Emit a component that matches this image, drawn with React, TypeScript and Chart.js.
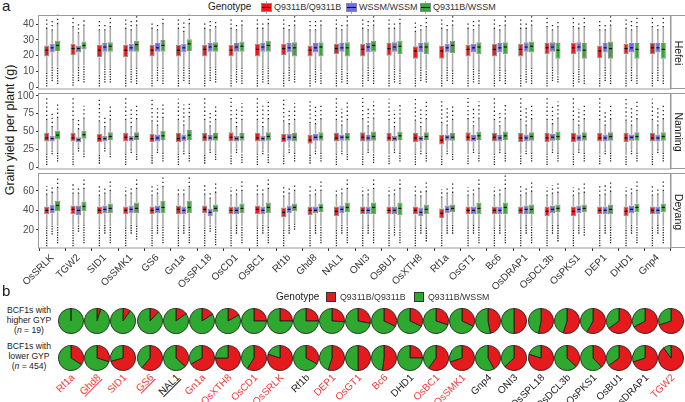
import React, { useEffect, useRef } from 'react';
import { Chart, registerables } from 'chart.js';
Chart.register(...registerables);

const FONT = '"Liberation Sans", Arial, Helvetica, sans-serif';

const genes = ['OsSRLK','TGW2','SID1','OsSMK1','GS6','Gn1a','OsSPL18','OsCD1','OsBC1','Rf1b','Ghd8','NAL1','ONI3','OsBU1','OsXTH8','Rf1a','OsGT1','Bc6','OsDRAP1','OsDCL3b','OsPKS1','DEP1','DHD1','Gnp4'];
const genotypes = ['Q9311B/Q9311B','WSSM/WSSM','Q9311B/WSSM'];
const boxColors = ['#e41a1c','#6b6bf0','#36a836'];

const hefeiTicks = [0,10,20,30,40];
const nanningTicks = [0,25,50,75,100];
const deyangTicks = [20,40,60];

// each box: [lowest outlier, lower whisker, Q1, median, Q3, upper whisker, highest outlier]
const hefeiRed = [[0.5,9,19.5,23.5,26.5,37,44],[1,9,20.5,24.5,27.5,38,45],[0.5,8,19,23.5,27,36,42],[0.5,8,19,23.5,27,37,44],[0.5,8,19.5,23.5,27,37,42],[0.5,8,19.5,23.5,27,37,43],[0.5,8,19.5,24,27,37,42],[0.5,8,19.5,23.5,27,37,43],[0.5,8,19.5,24,27.5,37,44],[0.5,9,20.5,24.5,27.5,37,43],[0.5,8,19.5,23.5,26.5,36,42],[0.5,9,21,24.5,27.5,37,43],[0.5,8,19.5,24,27.5,37,43],[0.5,8,20,24.5,28,37,43],[0.5,7,18,23,26,35,42],[0.5,8,18,23,26.5,37,43],[0.5,8,19.5,24,27,37,42],[0.5,8,19.5,24,27.5,37,43],[0.5,8,19.5,24,27.5,37,44],[0.5,9,21,25,28,38,45],[0.5,9,21,25,28,38,45],[0.5,7,18.5,23,26.5,36,43],[0.5,9,21,24.5,27.5,37,44],[0.5,9,21,25,28,38,45]];
const hefeiBlue = [[4,13,22,25,27.5,36,42],[4,13,22,24.5,26.5,34,40],[3,13,22.5,25.5,28,36,41],[3,13,22.5,25,27.5,36,42],[4,13,22.5,25,28,36,41],[4,13,22,25,27.5,35,41],[4,13,22.5,25.5,28,36,42],[3,13,22.5,25.5,28,36,41],[3,13,22.5,25.5,28,37,42],[4,13,22,25,28,36,41],[3,13,22,25,28,36,42],[3,13,22.5,25,28,36,41],[4,13,22,25.5,28,36,43],[3,13,22.5,25.5,28.5,37,42],[4,13,22,25.5,28,36,41],[4,13,22,25,27.5,36,41],[3,13,22,25,27.5,36,42],[4,13,22,25,28,36,41],[3,13,22.5,25.5,28.5,37,42],[4,13,22.5,25.5,28.5,36,41],[3,13,22.5,25.5,28.5,37,42],[4,13,22,25,28,36,41],[4,13,22,25,28,36,42],[4,13,22,25,28,36,41]];
const hefeiGreen = [[2,13,23,26.5,29.5,40,46],[3,14,24,26.5,29,39,44],[3,13,22.5,26,28.5,38,45],[2,12,22.5,27,29.5,39,45],[2,12,22.5,26.5,30,40,45],[2,12,23,27.5,30.5,40,46],[3,13,22.5,26,28.5,38,42],[2,12,22.5,26,29,39,44],[2,12,22.5,26.5,29.5,40,45],[3,10,19.5,25,28.5,39,45],[2,10,19.5,25.5,28.5,39,44],[2,10,19.5,25,28.5,39,45],[2,12,22.5,26.5,29.5,39,45],[2,11,21,26,29.5,40,46],[3,11,21,25.5,28.5,38,44],[2,11,21.5,26.5,29.5,39,45],[2,11,21,25.5,28.5,39,44],[2,11,21,25.5,28.5,39,45],[2,12,22,26,29,39,45],[3,8,18,23.5,28,38,43],[2,8,18,23.5,28,38,44],[2,8,18,24.5,29,39,45],[2,8,18,24,28,38,44],[2,8,18,24,28,38,45]];

const nanningRed = [[3,18,36,41,48,66,98],[3,18,36,41,48,66,98],[5,18,35,40,47,64,95],[3,18,36,42,48,66,97],[5,18,35,40,47,64,98],[3,18,35,40,48,66,96],[5,18,36,42,48,66,98],[4,18,36,42,49,67,97],[3,18,36,41,48,66,98],[4,17,35,40,47,64,96],[5,17,33,38,45,62,95],[3,18,36,41,48,66,98],[3,18,36,42,49,67,97],[4,18,36,41,48,66,96],[3,18,35,41,48,65,97],[3,15,32,38,45,62,95],[4,18,36,42,49,67,97],[3,18,36,42,48,66,97],[4,18,35,41,48,66,97],[3,18,35,41,48,66,98],[3,18,35,41,48,66,98],[4,18,36,41,48,66,97],[3,17,35,41,48,65,98],[3,18,36,41,48,66,96]];
const nanningBlue = [[18,26,36,40,44,56,78],[22,27,35,38.5,42,53,68],[22,27,36,40,44,56,72],[20,26,36,40,44,56,82],[20,26,36,41,46,58,86],[18,26,36,41,46,58,88],[20,26,37,41,45,57,78],[20,26,36,40,44,56,84],[18,26,36,40,44,56,86],[20,27,37,42,47,60,80],[18,26,37,42,47,60,88],[18,26,37,42,46,58,82],[20,26,36,41,45,57,84],[20,26,36,40,44,56,80],[18,26,36,40,44,56,82],[18,26,37,42,46,58,86],[20,26,36,40,45,57,84],[20,26,36,41,45,57,80],[18,26,36,41,46,58,84],[20,26,37,42,47,60,86],[20,26,36,41,46,58,82],[18,26,36,41,46,58,80],[18,26,37,42,46,58,84],[20,26,36,41,46,58,86]];
const nanningGreen = [[8,20,39,45,51,69,90],[14,22,40,45.5,51,68,86],[14,20,38,43,49,66,88],[10,20,38,43,49,67,90],[8,20,38,44,51,69,92],[8,20,38,45,52,70,90],[10,20,37,42,48,66,88],[6,20,37,42,48,66,90],[6,20,37,43,49,67,92],[8,20,36,42,48,66,90],[8,20,37,42.5,49,67,90],[10,20,37,42,48,66,92],[6,20,37,43,50,68,92],[8,20,38,44,50,68,90],[8,20,38,43,49,67,92],[10,20,37,42,48,66,88],[8,20,38,44,50,68,92],[8,20,38,44,50,68,90],[8,20,37,43,49,67,88],[8,20,38,43,50,68,92],[8,20,37,43,49,67,90],[8,20,37,43,49,67,88],[8,20,37,43,49,67,92],[8,20,37,43,49,67,90]];

const deyangRed = [[3,22,36,40,44,56,65],[3,23,36,41,45,57,68],[3,23,36,40,44,55,65],[3,22,36,40,44,55,64],[3,22,36,40,44,55,66],[3,22,36,41,45,56,64],[3,23,37,41,45,56,66],[3,22,36,40,44,55,64],[3,22,36,41,45,56,66],[3,20,33,38,43,54,64],[3,22,35,40,44,55,66],[3,20,34,39,44,55,62],[3,22,36,40,44,55,64],[3,22,36,40,44,55,64],[3,22,36,40,44,55,66],[3,19,32,37,42,53,62],[3,22,36,40,44,55,64],[3,22,36,40,44,55,64],[3,22,36,40,44,55,66],[3,20,34,39,44,55,64],[3,20,34,39,44,55,64],[3,22,36,40,44,55,66],[3,20,34,39,44,55,64],[3,22,36,40,44,55,66]];
const deyangBlue = [[15,26,37,41,46,58,66],[18,26,35,40,45,57,64],[16,26,37,41,45,57,65],[16,26,37,41,45,57,64],[16,26,37,41,45,57,66],[16,26,36,40,44,56,64],[18,26,34,38,42,52,60],[16,25,36,40,44,56,64],[16,26,36,40,44,56,64],[16,26,37,41,45,57,64],[16,26,37,40,44,56,64],[16,26,37,41,45,57,64],[16,25,36,40,44,56,64],[14,25,36,40,44,56,64],[16,25,34,38,43,54,62],[16,26,37,41,45,57,64],[16,25,36,40,44,56,64],[16,25,36,40,44,56,64],[16,25,36,41,45,57,64],[16,26,37,41,45,57,66],[16,26,37,41,45,57,64],[16,26,36,40,44,56,66],[16,26,37,41,45,57,64],[16,25,36,40,44,56,64]];
const deyangGreen = [[6,24,39,45,50,63,75],[6,25,39,44,49,62,74],[6,24,37,42,47,60,72],[10,24,37,42,48,62,72],[6,23,37,43,50,64,74],[6,23,37,43,50,64,74],[4,25,38,42,46,58,70],[6,24,37,42,47,60,72],[6,23,37,43,48,62,74],[20,26,39,43,47,60,68],[6,24,38,43,47,60,72],[6,24,38,43,48,62,72],[6,22,36,43,48,62,74],[6,22,35,42,48,62,74],[8,24,36,41,46,59,70],[16,26,38,42,46,58,68],[6,23,36,42,48,62,72],[6,22,36,43,48,62,76],[6,24,36,41,46,59,70],[8,25,38,42,46,58,68],[14,25,38,42,46,58,68],[6,23,36,41,46,59,70],[6,24,38,43,47,60,70],[6,24,38,43,47,60,70]];

// panel b
const pieGenes = ['Rf1a','Ghd8','SID1','GS6','NAL1','Gn1a','OsXTH8','OsCD1','OsSRLK','Rf1b','DEP1','OsGT1','Bc6','DHD1','OsBC1','OsSMK1','Gnp4','ONI3','OsSPL18','OsDCL3b','OsPKS1','OsBU1','OsDRAP1','TGW2'];
const higherRed = [0,0.05,0.1,0.12,0.15,0.16,0.17,0.25,0.25,0.25,0.26,0.28,0.32,0.32,0.3,0.32,0.47,0.5,0.53,0.55,0.58,0.65,0.67,0.7];
const lowerRed = [0.34,0.3,0.71,0.61,0.37,0.67,0.75,0.59,0.8,0.33,0.55,0.5,0.52,0.25,0.6,0.7,0.42,0.63,0.8,0.37,0.38,0.65,0.7,0.9];
const highlightedGenes = ['Rf1a','Ghd8','SID1','GS6','Gn1a','OsXTH8','OsCD1','OsSRLK','DEP1','OsGT1','Bc6','OsBC1','OsSMK1','TGW2'];
const underlinedGenes = ['Ghd8','GS6','NAL1'];
const pieGenotypes = ['Q9311B/Q9311B','Q9311B/WSSM'];
const pieColors = ['#e41a1c','#2ea82e'];

const boxPlugin = {
  id: 'boxExtras',
  beforeDatasetsDraw(chart: any) {
    const ctx = chart.ctx;
    const y = chart.scales.y;
    ctx.save();
    chart.data.datasets.forEach((ds: any, di: number) => {
      const meta = chart.getDatasetMeta(di);
      ds.stats.forEach((b: number[], i: number) => {
        const x = meta.data[i].x;
        ctx.strokeStyle = '#ababab';
        ctx.lineWidth = 1.6;
        ctx.beginPath();
        ctx.moveTo(x, y.getPixelForValue(b[1]));
        ctx.lineTo(x, y.getPixelForValue(b[2]));
        ctx.moveTo(x, y.getPixelForValue(b[4]));
        ctx.lineTo(x, y.getPixelForValue(b[5]));
        ctx.stroke();
      });
    });
    ctx.restore();
  },
  afterDatasetsDraw(chart: any) {
    const ctx = chart.ctx;
    const y = chart.scales.y;
    const a = chart.chartArea;
    ctx.save();
    chart.data.datasets.forEach((ds: any, di: number) => {
      const meta = chart.getDatasetMeta(di);
      ds.stats.forEach((b: number[], i: number) => {
        const el = meta.data[i];
        const x = el.x;
        const w = el.width;
        ctx.setLineDash([]);
        ctx.strokeStyle = '#111';
        ctx.lineWidth = 1.2;
        ctx.beginPath();
        const my = y.getPixelForValue(b[3]);
        ctx.moveTo(x - w / 2 + 1, my);
        ctx.lineTo(x + w / 2 - 1, my);
        ctx.stroke();
        ctx.strokeStyle = '#222';
        ctx.lineWidth = 1.3;
        ctx.setLineDash([1.3, 1.2]);
        ctx.beginPath();
        ctx.moveTo(x, y.getPixelForValue(b[0]));
        ctx.lineTo(x, y.getPixelForValue(b[1]));
        ctx.stroke();
        ctx.setLineDash([1.3, 2.8]);
        ctx.beginPath();
        ctx.moveTo(x, y.getPixelForValue(b[5]));
        ctx.lineTo(x, y.getPixelForValue(b[6]));
        ctx.stroke();
      });
    });
    ctx.setLineDash([]);
    ctx.strokeStyle = '#9a9a9a';
    ctx.lineWidth = 1;
    ctx.strokeRect(a.left - 0.5, a.top + 0.5, a.right - a.left + 0.5, a.bottom - a.top - 0.5);
    ctx.restore();
  },
};

function BoxPanel(props: { top: number; bottom: number; min: number; max: number; ticks: number[]; stats: number[][][]; showX: boolean }) {
  const ref = useRef<HTMLCanvasElement>(null);
  const { top, bottom, min, max, ticks, stats, showX } = props;
  const padTop = 6;
  const padBottom = showX ? 0 : 6;
  const xH = 46;
  const h = padTop + (bottom - top) + (showX ? xH : padBottom);
  useEffect(() => {
    const chart = new Chart(ref.current as HTMLCanvasElement, {
      type: 'bar',
      data: {
        labels: genes,
        datasets: stats.map((s, k) => ({
          label: genotypes[k],
          data: s.map((b) => [b[2], b[4]]),
          stats: s,
          backgroundColor: boxColors[k],
          borderColor: '#8a8a8a',
          borderWidth: 1,
          borderSkipped: false,
          categoryPercentage: 0.62,
          barPercentage: 0.94,
        })) as any,
      },
      options: {
        responsive: false,
        animation: false,
        devicePixelRatio: 1,
        layout: { padding: { top: padTop, bottom: padBottom, left: 0, right: 9 } },
        plugins: { legend: { display: false }, tooltip: { enabled: false } },
        scales: {
          x: {
            display: showX,
            grid: { display: true, drawOnChartArea: false, drawTicks: true, tickLength: 3, color: '#333' },
            border: { display: false },
            ticks: { autoSkip: false, minRotation: 45, maxRotation: 45, padding: 1, color: '#333', font: { family: FONT, size: 10 } },
            afterFit: (s: any) => { if (showX) s.height = xH; },
          },
          y: {
            min, max,
            grid: { drawOnChartArea: false, tickLength: 3, color: '#333' },
            border: { display: false },
            ticks: { padding: 2, color: '#4d4d4d', font: { family: FONT, size: 10 } },
            afterBuildTicks: (s: any) => { s.ticks = ticks.map((v) => ({ value: v })); },
            afterFit: (s: any) => { s.width = 39; s.paddingTop = 0; s.paddingBottom = 0; },
          },
        },
      } as any,
      plugins: [boxPlugin],
    });
    return () => chart.destroy();
  }, []);
  return <canvas ref={ref} width={680} height={h} style={{ position: 'absolute', left: 0, top: top - padTop }} />;
}

function Pie(props: { cx: number; cy: number; red: number }) {
  const ref = useRef<HTMLCanvasElement>(null);
  useEffect(() => {
    const chart = new Chart(ref.current as HTMLCanvasElement, {
      type: 'pie',
      data: {
        labels: pieGenotypes,
        datasets: [{ data: [props.red, 1 - props.red], backgroundColor: pieColors, borderColor: '#1a1a1a', borderWidth: 0.8 }],
      },
      options: {
        responsive: false,
        animation: false,
        devicePixelRatio: 1,
        layout: { padding: 0 },
        plugins: { legend: { display: false }, tooltip: { enabled: false } },
      } as any,
    });
    return () => chart.destroy();
  }, []);
  return <canvas ref={ref} width={26} height={26} style={{ position: 'absolute', left: props.cx - 13, top: props.cy - 13 }} />;
}

function BoxKey(props: { x: number; y: number; color: string }) {
  const { x, y, color } = props;
  return (
    <div style={{ position: 'absolute', left: x, top: y, width: 11, height: 13 }}>
      <div style={{ position: 'absolute', left: 5, top: 0, width: 1, height: 13, background: '#aaa' }} />
      <div style={{ position: 'absolute', left: 0, top: 2, width: 9, height: 7, background: color, border: '1px solid #8a8a8a' }} />
      <div style={{ position: 'absolute', left: 1, top: 6, width: 9, height: 1, background: '#111' }} />
    </div>
  );
}

const txt = (extra: any) => ({ position: 'absolute' as const, whiteSpace: 'nowrap' as const, ...extra });

export default function App() {
  const x0 = 71.3;
  const dx = 26.07;
  return (
    <div style={{ position: 'absolute', left: 0, top: 0, width: 685, height: 402, background: '#fff', overflow: 'hidden', fontFamily: FONT, color: '#1a1a1a' }}>
      <div style={txt({ left: 2, top: -3, fontSize: 15 })}>a</div>
      <div style={txt({ left: 208, top: 1, fontSize: 10, lineHeight: '12px' })}>Genotype</div>
      <BoxKey x={261} y={1} color={boxColors[0]} />
      <div style={txt({ left: 274, top: 2, fontSize: 9, lineHeight: '11px', color: '#333' })}>{genotypes[0]}</div>
      <BoxKey x={346} y={1} color={boxColors[1]} />
      <div style={txt({ left: 359, top: 2, fontSize: 9, lineHeight: '11px', color: '#333' })}>{genotypes[1]}</div>
      <BoxKey x={420} y={1} color={boxColors[2]} />
      <div style={txt({ left: 433, top: 2, fontSize: 9, lineHeight: '11px', color: '#333' })}>{genotypes[2]}</div>

      <div style={txt({ left: 10, top: 130, fontSize: 12.5, transform: 'translate(-50%, -50%) rotate(-90deg)' })}>Grain yield per plant (g)</div>

      <BoxPanel top={15} bottom={89} min={-1.1} max={45.8} ticks={hefeiTicks} stats={[hefeiRed, hefeiBlue, hefeiGreen]} showX={false} />
      <BoxPanel top={93} bottom={169} min={-2.5} max={104} ticks={nanningTicks} stats={[nanningRed, nanningBlue, nanningGreen]} showX={false} />
      <BoxPanel top={173} bottom={248} min={1.2} max={78.5} ticks={deyangTicks} stats={[deyangRed, deyangBlue, deyangGreen]} showX={true} />

      {[['Hefei', 15, 89], ['Nanning', 93, 169], ['Deyang', 173, 248]].map(([name, t, b]: any) => (
        <div key={name} style={{ position: 'absolute', left: 670, top: t, width: 20, height: b - t, border: '1px solid #9a9a9a', boxSizing: 'border-box' }}>
          <div style={txt({ left: 8, top: (b - t) / 2, fontSize: 10.5, transform: 'translate(-50%, -50%) rotate(90deg)' })}>{name}</div>
        </div>
      ))}

      <div style={txt({ left: 2, top: 282, fontSize: 15 })}>b</div>
      <div style={txt({ left: 276, top: 291, fontSize: 10, lineHeight: '12px' })}>Genotype</div>
      <div style={{ position: 'absolute', left: 326, top: 292, width: 10, height: 10, background: pieColors[0], border: '1px solid #333', boxSizing: 'border-box' }} />
      <div style={txt({ left: 340, top: 291.5, fontSize: 8.8, lineHeight: '11px', color: '#333' })}>{pieGenotypes[0]}</div>
      <div style={{ position: 'absolute', left: 414, top: 292, width: 10, height: 10, background: pieColors[1], border: '1px solid #333', boxSizing: 'border-box' }} />
      <div style={txt({ left: 428, top: 291.5, fontSize: 8.8, lineHeight: '11px', color: '#333' })}>{pieGenotypes[1]}</div>

      <div style={txt({ left: 0, top: 305, width: 58, textAlign: 'center', fontSize: 8.6, lineHeight: '10px', whiteSpace: 'normal' })}>
        BCF1s with<br />higher GYP<br />(<i>n</i> = 19)
      </div>
      <div style={txt({ left: 0, top: 341, width: 58, textAlign: 'center', fontSize: 8.6, lineHeight: '10px', whiteSpace: 'normal' })}>
        BCF1s with<br />lower GYP<br />(<i>n</i> = 454)
      </div>

      {pieGenes.map((g, i) => (
        <Pie key={'h' + g} cx={x0 + i * dx} cy={321} red={higherRed[i]} />
      ))}
      {pieGenes.map((g, i) => (
        <Pie key={'l' + g} cx={x0 + i * dx} cy={358} red={lowerRed[i]} />
      ))}
      {pieGenes.map((g, i) => (
        <div key={'t' + g} style={txt({
          left: x0 + i * dx + 2 - 200, top: 376 - 6, width: 200, textAlign: 'right', fontSize: 10, lineHeight: '12px',
          color: highlightedGenes.includes(g) ? '#f03a3a' : '#222',
          textDecoration: underlinedGenes.includes(g) ? 'underline' : 'none',
          transformOrigin: 'right center', transform: 'rotate(-45deg)',
        })}>{g}</div>
      ))}
    </div>
  );
}
